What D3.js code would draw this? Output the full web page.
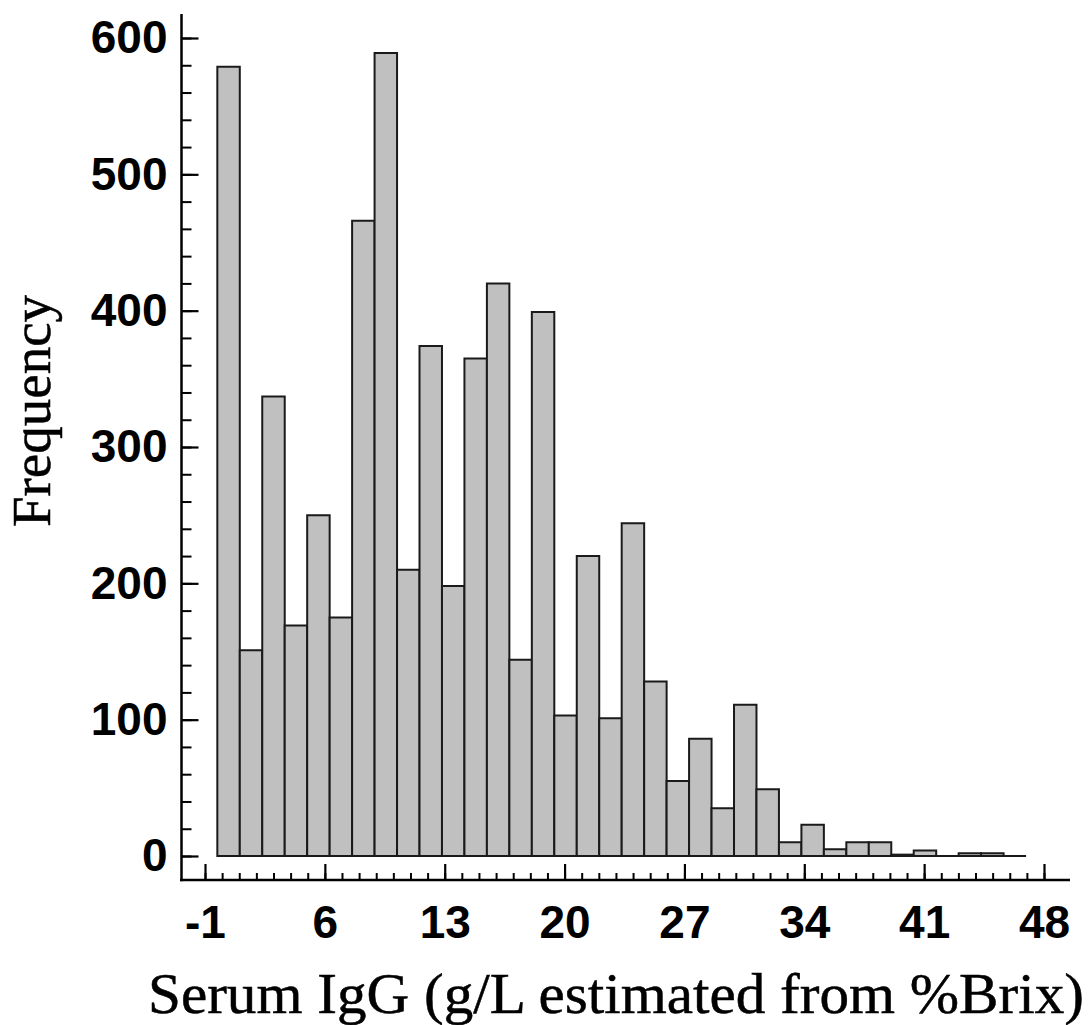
<!DOCTYPE html>
<html>
<head>
<meta charset="utf-8">
<script src="https://cdn.jsdelivr.net/npm/d3@7"></script>
<style>
  body { margin: 0; background: #fff; }
  .tick text { font-family: "Liberation Sans", Arial, sans-serif; font-weight: bold; font-size: 46px; fill: #000; }
  .axisTitle { font-family: "Liberation Serif", "Times New Roman", serif; fill: #000; stroke: #000; stroke-width: 0.5px; }
</style>
</head>
<body>
<div id="chart"></div>
<script>

// histogram bins (left edge of first bin, bin width) and counts
var binStart = -0.28;
var binWidth = 1.312;
var counts = [579, 151, 337, 169, 250, 175, 466, 589, 210, 374, 198, 365,
  420, 144, 399, 103, 220, 101, 244, 128, 55, 86, 35, 111,
  49, 10, 23, 5, 10, 10, 1, 4, 0, 2, 2, 0];

var xTicks = [-1, 6, 13, 20, 27, 34, 41, 48];
var yTicks = [0, 100, 200, 300, 400, 500, 600];

var xTitle = "Serum IgG (g/L estimated from %Brix)";
var yTitle = "Frequency";

var svgWidth = 1089;
var svgHeight = 1025;

var svg = d3.select("#chart")
  .append("svg")
  .attr("width", svgWidth)
  .attr("height", svgHeight);

// scales
var xScale = d3.scaleLinear()
  .domain([-1, 48])
  .range([205, 1044]);

var yScale = d3.scaleLinear()
  .domain([0, 600])
  .range([856, 38]);

var axisY = 880;   // x axis line position
var axisX = 181.5; // y axis line position

// bars, drawn as paths so empty bins still show a flat line
var bins = counts.map(function(c, i) {
  return { x0: binStart + i * binWidth, x1: binStart + (i + 1) * binWidth, count: c };
});

svg.append("g")
  .selectAll("path")
  .data(bins)
  .enter()
  .append("path")
  .attr("d", function(d) {
    var p = d3.path();
    p.moveTo(xScale(d.x0), yScale(0));
    p.lineTo(xScale(d.x0), yScale(d.count));
    p.lineTo(xScale(d.x1), yScale(d.count));
    p.lineTo(xScale(d.x1), yScale(0));
    p.closePath();
    return p.toString();
  })
  .attr("fill", "#c0c0c0")
  .attr("stroke", "#1a1a1a")
  .attr("stroke-width", 2);

// y axis: major and minor ticks pointing inward
var yMinor = d3.range(0, 601, 20);

svg.append("g")
  .attr("transform", `translate(${axisX},0)`)
  .call(d3.axisLeft(yScale).tickValues(yMinor).tickSize(-10).tickFormat(""))
  .call(g => g.select(".domain").remove())
  .selectAll("line").attr("stroke", "#000").attr("stroke-width", 2);

svg.append("g")
  .attr("transform", `translate(${axisX},0)`)
  .call(d3.axisLeft(yScale).tickValues(yTicks).tickSize(-17).tickPadding(14).tickFormat(d => String(d)))
  .call(g => g.select(".domain").remove())
  .selectAll("line").attr("stroke", "#000").attr("stroke-width", 2.2);

// x axis: major and minor ticks pointing up
var xMinor = d3.range(-1, 49, 1);

svg.append("g")
  .attr("transform", `translate(0,${axisY})`)
  .call(d3.axisBottom(xScale).tickValues(xMinor).tickSize(-7).tickFormat(""))
  .call(g => g.select(".domain").remove())
  .selectAll("line").attr("stroke", "#000").attr("stroke-width", 2);

svg.append("g")
  .attr("transform", `translate(0,${axisY})`)
  .call(d3.axisBottom(xScale).tickValues(xTicks).tickSize(-16).tickPadding(25).tickFormat(d => String(d)))
  .call(g => g.select(".domain").remove())
  .selectAll("line").attr("stroke", "#000").attr("stroke-width", 2.2);

// axis lines
svg.append("line")
  .attr("x1", axisX).attr("x2", axisX)
  .attr("y1", 14).attr("y2", axisY + 1.25)
  .attr("stroke", "#000")
  .attr("stroke-width", 2.5);

svg.append("line")
  .attr("x1", 180).attr("x2", 1070)
  .attr("y1", axisY).attr("y2", axisY)
  .attr("stroke", "#000")
  .attr("stroke-width", 2.5);

// axis titles
svg.append("text")
  .attr("class", "axisTitle")
  .attr("x", 616)
  .attr("y", 1013)
  .attr("text-anchor", "middle")
  .attr("textLength", 936)
  .attr("lengthAdjust", "spacingAndGlyphs")
  .style("font-size", "56px")
  .text(xTitle);

svg.append("text")
  .attr("class", "axisTitle")
  .attr("transform", "translate(50,411) rotate(-90)")
  .attr("text-anchor", "middle")
  .style("font-size", "55px")
  .text(yTitle);

</script>
</body>
</html>
